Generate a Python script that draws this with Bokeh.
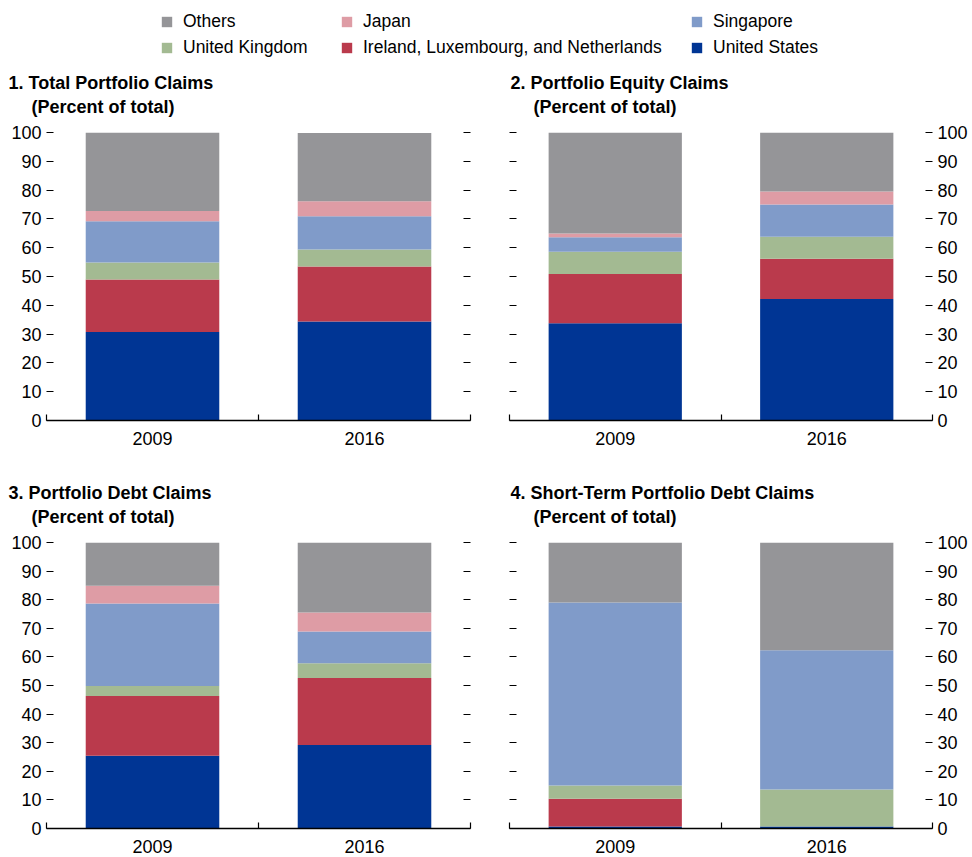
from bokeh.plotting import figure
from bokeh.models import (FixedTicker, LinearAxis, Range1d, Title, Legend, LegendItem,
                          ColumnDataSource)
from bokeh.layouts import column, row
from bokeh.embed import file_html
from bokeh.resources import INLINE

# ---------------- data ----------------
years = ["2009", "2016"]
series = ["United States", "Ireland, Luxembourg, and Netherlands", "United Kingdom",
          "Singapore", "Japan", "Others"]
colors = ["#003594", "#BA3A4C", "#A3BA92", "#809BC9", "#DE9CA5", "#959598"]
ticks_y = [0, 10, 20, 30, 40, 50, 60, 70, 80, 90, 100]

titles = ["1. Total Portfolio Claims", "2. Portfolio Equity Claims",
          "3. Portfolio Debt Claims", "4. Short-Term Portfolio Debt Claims"]
subtitle = "(Percent of total)"

# legend columns (top row, bottom row)
legend_cols = [["Others", "United Kingdom"],
               ["Japan", "Ireland, Luxembourg, and Netherlands"],
               ["Singapore", "United States"]]

total_us = [30.7, 34.4]
total_ire = [18.3, 19.1]
total_uk = [5.9, 5.9]
total_sing = [14.3, 11.5]
total_jap = [3.5, 5.2]
total_oth = [27.3, 23.7]

equity_us = [33.8, 42.2]
equity_ire = [17.1, 14.0]
equity_uk = [7.7, 7.6]
equity_sing = [5.0, 11.2]
equity_jap = [1.3, 4.5]
equity_oth = [35.1, 20.5]

debt_us = [25.4, 29.2]
debt_ire = [20.9, 23.4]
debt_uk = [3.5, 5.2]
debt_sing = [28.9, 11.1]
debt_jap = [6.2, 6.6]
debt_oth = [15.1, 24.5]

st_us = [0.7, 0.7]
st_ire = [9.7, 0.0]
st_uk = [4.6, 12.9]
st_sing = [64.0, 48.7]
st_jap = [0.0, 0.0]
st_oth = [21.0, 37.7]

FONT = "Liberation Sans"
TICK_SIZE = "18px"
TITLE_SIZE = "18px"
LEGEND_SIZE = "17.5px"


def panel(title, data, label_side, width, height, bl, br, bt, bb, t_off):
    keys = [f"s{i}" for i in range(len(series))]
    src = ColumnDataSource(dict(x=[i + 0.5 for i in range(len(years))],
                                **{k: v for k, v in zip(keys, data)}))
    p = figure(width=width, height=height, x_range=Range1d(0, len(years)),
               y_range=Range1d(0, 100), output_backend="svg", toolbar_location=None,
               x_axis_type=None, y_axis_type=None,
               min_border_left=bl, min_border_right=br, min_border_top=bt,
               min_border_bottom=bb, title=title)
    p.outline_line_color = None
    p.vbar_stack(keys, x="x", width=0.63, color=colors, source=src, line_width=0)

    p.title.text_font = FONT
    p.title.text_font_size = TITLE_SIZE
    p.title.text_font_style = "bold"
    p.title.text_color = "black"
    p.title.offset = t_off
    p.title.standoff = 4
    # small spacer between the frame and the subtitle line
    p.add_layout(Title(text=" ", text_font_size="1px", standoff=13), "above")
    p.add_layout(Title(text=subtitle, text_font=FONT, text_font_size=TITLE_SIZE,
                       text_font_style="bold", text_color="black",
                       offset=t_off + 23, standoff=0), "above")

    for side in ("left", "right"):
        ax = LinearAxis(ticker=FixedTicker(ticks=ticks_y), axis_line_color=None,
                        major_tick_in=7, major_tick_out=0, minor_tick_line_color=None,
                        major_tick_line_color="black", major_tick_line_width=1.2,
                        major_label_text_font=FONT, major_label_text_font_size=TICK_SIZE,
                        major_label_text_color="black")
        if side == label_side:
            ax.major_label_standoff = 5
        else:
            ax.major_label_standoff = 0
            ax.major_label_overrides = {t: "" for t in ticks_y}
            ax.major_label_text_font_size = "0px"
        p.add_layout(ax, side)

    xax = LinearAxis(ticker=FixedTicker(ticks=[i + 0.5 for i in range(len(years))],
                                        minor_ticks=list(range(len(years) + 1))),
                     major_tick_in=0, major_tick_out=0, minor_tick_in=6, minor_tick_out=0,
                     minor_tick_line_color="black", minor_tick_line_width=1.2,
                     axis_line_color="black", axis_line_width=1.5,
                     major_label_overrides={i + 0.5: y for i, y in enumerate(years)},
                     major_label_text_font=FONT, major_label_text_font_size=TICK_SIZE,
                     major_label_text_color="black", major_label_standoff=11)
    p.add_layout(xax, "below")
    return p


p1 = panel(titles[0], [total_us, total_ire, total_uk, total_sing, total_jap, total_oth],
           "left", 480, 70 + 288 + 30, 46, 10, 70, 30, -38)
p2 = panel(titles[1], [equity_us, equity_ire, equity_uk, equity_sing, equity_jap, equity_oth],
           "right", 490, 70 + 288 + 30, 29, 37, 70, 30, 1)
p3 = panel(titles[2], [debt_us, debt_ire, debt_uk, debt_sing, debt_jap, debt_oth],
           "left", 480, 92 + 287 + 26, 46, 10, 92, 26, -38)
p4 = panel(titles[3], [st_us, st_ire, st_uk, st_sing, st_jap, st_oth],
           "right", 490, 92 + 287 + 26, 29, 37, 92, 26, 1)

# ---------------- legend ----------------
lg = figure(width=970, height=62, output_backend="svg", toolbar_location=None,
            x_axis_type=None, y_axis_type=None, min_border=0,
            x_range=Range1d(0, 1), y_range=Range1d(0, 1))
lg.outline_line_color = None
rends = {}
for s, c in zip(series, colors):
    # placeholder glyph outside the visible range; only its legend swatch is shown
    rends[s] = lg.rect(x=[-5], y=[-5], width=0.1, height=0.1, fill_color=c, line_color=None)
for col_items, xpos in zip(legend_cols, (160, 340, 690)):
    lgd = Legend(items=[LegendItem(label=s, renderers=[rends[s]]) for s in col_items],
                 orientation="vertical", location=(xpos, 4),
                 glyph_width=13, glyph_height=13, label_standoff=10, spacing=4,
                 label_text_font=FONT, label_text_font_size=LEGEND_SIZE, label_height=22,
                 label_text_color="black",
                 padding=0, margin=0, border_line_color=None, background_fill_alpha=0)
    lg.add_layout(lgd, "center")

layout = column(lg, row(p1, p2), row(p3, p4))
open("out.html", "w").write(file_html(layout, INLINE))
